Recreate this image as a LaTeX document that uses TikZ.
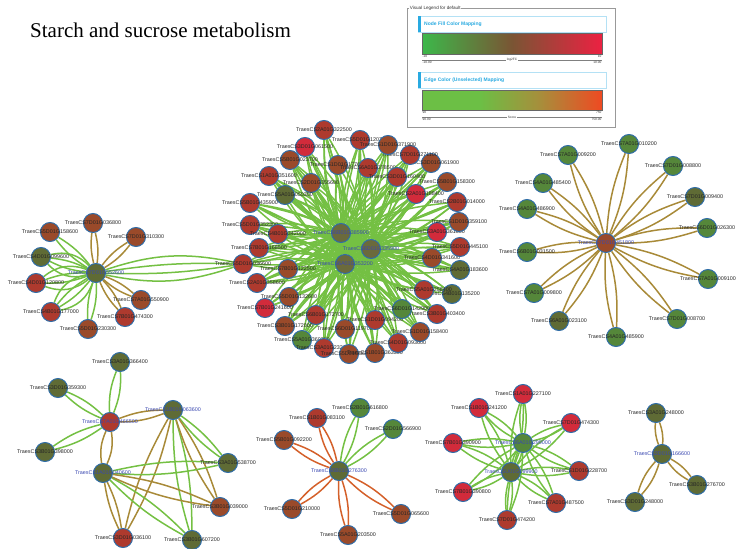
\documentclass[tikz,border=0pt]{standalone}
\usepackage{fontspec}
\setmainfont{Liberation Sans}
\newfontfamily\titlefont{Liberation Serif}
\usetikzlibrary{backgrounds}
\definecolor{ecg}{HTML}{74C043}
\definecolor{ect}{HTML}{A88A38}
\definecolor{eco}{HTML}{D4602A}
\definecolor{nbd}{HTML}{2F6DA8}
\definecolor{cred}{HTML}{D22B3B}
\definecolor{crb}{HTML}{AE3A2E}
\definecolor{cbr}{HTML}{9A4A2A}
\definecolor{col}{HTML}{5F6B35}
\definecolor{cgr}{HTML}{55873A}
\definecolor{chub}{HTML}{6B6A3C}
\definecolor{lblue}{HTML}{3A48B0}
\definecolor{lcyan}{HTML}{29AAE1}
\definecolor{gA}{HTML}{3CB84A}
\definecolor{gB}{HTML}{7A5534}
\definecolor{gC}{HTML}{EC2142}
\definecolor{eA}{HTML}{6CBF45}
\definecolor{eB}{HTML}{A88D3B}
\definecolor{eC}{HTML}{EF4A22}
\tikzset{
  gn/.style={circle, draw=nbd, line width=1pt, minimum size=19pt, inner sep=0pt},
  lab/.style={font=\fontsize{5.4}{6}\selectfont, text=black!85, inner sep=0pt},
  hlab/.style={font=\fontsize{5.4}{6}\selectfont, text=lblue, inner sep=0pt},
  ge/.style={draw=ecg, line width=1.5pt},
  te/.style={draw=ect, line width=1.5pt},
  oe/.style={draw=eco, line width=1.5pt},
  tiny/.style={font=\fontsize{3.2}{3.6}\selectfont, text=black!80, inner sep=0.4pt},
}
\newcommand\nd[4]{\node[gn, fill=#3, label={[lab]center:#4}] (#1) at (#2) {};}
\newcommand\hb[4]{\node[gn, fill=#3, label={[hlab]center:#4}] (#1) at (#2) {};}
\newcommand\dbl[4]{\draw[#3, bend left=#4] (#1) to (#2); \draw[#3, bend right=#4] (#1) to (#2);}
\begin{document}
\begin{tikzpicture}[x=1pt, y=-1pt]
\useasboundingbox (0,0) rectangle (740,549);
% title
\node[anchor=base west, font=\titlefont\fontsize{21}{24}\selectfont, inner sep=0pt] (title) at (30,37) {Starch and sucrose metabolism};
% legend
\draw[black!40, line width=0.6pt] (407,8) rectangle (615,127);
\node[anchor=west, fill=white, inner sep=0.6pt, font=\fontsize{4.6}{5}\selectfont, text=black!80] (lgt) at (409,8) {Visual Legend for default};
\draw[lcyan!35, fill=white, line width=0.5pt] (418,16) rectangle (606,32);
\fill[lcyan] (418,16) rectangle (421,32);
\node[anchor=west, text=lcyan, font=\bfseries\fontsize{5}{6}\selectfont, inner sep=0pt] (h1t) at (424,24) {Node Fill Color Mapping};
\shade[left color=gA, right color=gC, middle color=gB] (422,33) rectangle (602,54);
\draw[black!60, line width=0.4pt] (422,33) rectangle (602,54);
\node[tiny, anchor=north west] (t1a) at (422,55) {-10};
\node[tiny, anchor=north east] (t1b) at (602,55) {10};
\draw[black!50, line width=0.4pt] (422,60) -- (602,60);
\node[tiny, fill=white] (t1c) at (512,60) {log2FC};
\node[tiny, anchor=north west] (t1d) at (422,61) {-10.00};
\node[tiny, anchor=north east] (t1e) at (602,61) {10.00};
\draw[lcyan!35, fill=white, line width=0.5pt] (418,72) rectangle (606,88);
\fill[lcyan] (418,72) rectangle (421,88);
\node[anchor=west, text=lcyan, font=\bfseries\fontsize{5}{6}\selectfont, inner sep=0pt] (h2t) at (424,80) {Edge Color (Unselected) Mapping};
\fill[eA] (422,90) rectangle (480,110);
\shade[left color=eA, right color=eC, middle color=eB] (479.5,90) rectangle (602,110);
\draw[black!60, line width=0.4pt] (422,90) rectangle (602,110);
\node[tiny, anchor=north west] (t2a) at (422,111) {90};
\node[tiny, anchor=north east] (t2b) at (602,111) {750};
\draw[black!50, line width=0.4pt] (422,117) -- (602,117);
\node[tiny, fill=white] (t2c) at (512,117) {Score};
\node[tiny, anchor=north west] (t2d) at (422,118) {90.00};
\node[tiny, anchor=north east] (t2e) at (602,118) {750.00};

% ---------- left cluster
\nd{L1}{93,223}{cbr}{TraesCS7D01G036800}
\nd{L2}{50,232}{cbr}{TraesCS5D01G158600}
\nd{L3}{136,237}{cbr}{TraesCS7D01G310300}
\nd{L4}{41,257}{col}{TraesCS4D01G099600}
\nd{L5}{36,283}{crb}{TraesCS4D01G120800}
\nd{L6}{51,312}{crb}{TraesCS4B01G177000}
\nd{L7}{88,329}{cbr}{TraesCS5D01G230300}
\nd{L8}{125,317}{crb}{TraesCS7B01G474300}
\nd{L9}{141,300}{cbr}{TraesCS7A01G550900}
\hb{L0}{96,273}{col}{TraesCS7D01G552600}

% ---------- right cluster
\nd{R1}{629,144}{cgr}{TraesCS7A01G010200}
\nd{R2}{568,155}{cgr}{TraesCS7A01G009200}
\nd{R3}{673,166}{cgr}{TraesCS7D01G008800}
\nd{R4}{543,183}{cgr}{TraesCS4A01G485400}
\nd{R5}{695,197}{col}{TraesCS7D01G009400}
\nd{R6}{527,209}{cgr}{TraesCS4A01G486900}
\nd{R7}{707,228}{cgr}{TraesCS6D01G026300}
\nd{R8}{527,252}{cgr}{TraesCS6B01G031500}
\nd{R9}{708,279}{cgr}{TraesCS7A01G009100}
\nd{R10}{534,293}{cgr}{TraesCS7A01G009800}
\nd{R11}{677,319}{cgr}{TraesCS7D01G008700}
\nd{R12}{559,321}{col}{TraesCS6A01G023100}
\nd{R13}{616,337}{cgr}{TraesCS4A01G485900}
\hb{R0}{606,243}{cbr}{TraesCS7D01G451800}

% ---------- bottom-left cluster
\nd{B1}{120,362}{col}{TraesCS3A01G366400}
\nd{B2}{58,388}{col}{TraesCS3D01G359300}
\nd{B5}{45,452}{col}{TraesCS3B01G398000}
\nd{B7}{228,463}{col}{TraesCS3A01G538700}
\nd{B8}{220,507}{cbr}{TraesCS3B01G039000}
\nd{B9}{123,538}{crb}{TraesCS3D01G036100}
\nd{B10}{192,540}{col}{TraesCS3B01G607200}
\hb{B3}{110,422}{crb}{TraesCS7A01G466500}
\hb{B4}{173,410}{col}{TraesCS1B01G063600}
\hb{B6}{103,473}{col}{TraesCS1A01G040600}

% ---------- bottom-middle cluster
\nd{M1}{360,408}{cgr}{TraesCS2B01G616800}
\nd{M2}{317,418}{crb}{TraesCS1B01G083100}
\nd{M3}{284,440}{cbr}{TraesCS5B01G092200}
\nd{M4}{393,429}{cgr}{TraesCS2D01G566900}
\nd{M5}{292,509}{cbr}{TraesCS5D01G210000}
\nd{M6}{348,535}{cbr}{TraesCS5A01G203500}
\nd{M7}{401,514}{cbr}{TraesCS5D01G065600}
\hb{M0}{339,471}{col}{TraesCS6B01G276300}

% ---------- bottom-right cluster
\nd{Q3}{523,394}{cred}{TraesCS1A01G227100}
\nd{Q4}{479,408}{cred}{TraesCS1B01G241200}
\nd{Q5}{571,423}{cred}{TraesCS7D01G474300}
\nd{Q6}{453,443}{cred}{TraesCS7B01G390900}
\nd{Q7}{579,471}{crb}{TraesCS1D01G228700}
\nd{Q8}{463,492}{cred}{TraesCS7B01G390800}
\nd{Q9}{556,503}{crb}{TraesCS7A01G487500}
\nd{Q10}{507,520}{crb}{TraesCS7D01G474200}
\hb{Q1}{523,443}{cgr}{TraesCS6A01G299000}
\hb{Q2}{511,472}{col}{TraesCSU01G099900}

% ---------- far-right cluster
\nd{F1}{656,413}{col}{TraesCS3A01G248000}
\nd{F2}{697,485}{col}{TraesCS3B01G276700}
\nd{F3}{635,502}{col}{TraesCS3D01G248000}
\hb{F0}{662,454}{col}{TraesCS2D01G166600}

% ---------- central cluster
\nd{c1}{324,130}{crb}{TraesCS2A01G322500}
\nd{c2}{360,140}{crb}{TraesCS5D01G120700}
\nd{c3}{305,147}{cred}{TraesCS3D01G061500}
\nd{c4}{290,160}{cbr}{TraesCS5B01G023700}
\nd{c5}{338,165}{cbr}{TraesCS1D01G177600}
\nd{c6}{368,168}{crb}{TraesCS6A01G378500}
\nd{c7}{269,176}{crb}{TraesCS1A01G351600}
\nd{c8}{311,183}{cbr}{TraesCS2D01G355600}
\nd{c9}{285,195}{col}{TraesCS5A01G050300}
\nd{c10}{250,203}{crb}{TraesCS5B01G435900}
\nd{c11}{250,225}{crb}{TraesCS5D01G352300}
\nd{c12}{278,234}{crb}{TraesCS4B01G342000}
\nd{c13}{259,248}{crb}{TraesCS7B01G168500}
\nd{c14}{243,264}{crb}{TraesCS5D01G036600}
\nd{c15}{288,269}{cbr}{TraesCS7B01G122500}
\nd{c16}{257,283}{crb}{TraesCS2A01G358600}
\nd{c17}{289,297}{cbr}{TraesCS5D01G132600}
\nd{c18}{265,308}{cred}{TraesCS7B01G241600}
\nd{c19}{316,315}{crb}{TraesCS6B01G172700}
\nd{c20}{285,326}{cbr}{TraesCS3B01G172000}
\nd{c21}{345,329}{cbr}{TraesCS6D01G119700}
\nd{c22}{302,340}{cgr}{TraesCS5A01G360200}
\nd{c23}{324,348}{crb}{TraesCS3A01G232600}
\nd{c24}{349,354}{cbr}{TraesCS5D01G363500}
\nd{c25}{375,353}{cbr}{TraesCS1B01G363300}
\nd{c26}{398,343}{crb}{TraesCS4D01G093600}
\nd{c27}{420,332}{cbr}{TraesCS1D01G158400}
\nd{c28}{375,320}{crb}{TraesCS1D01G094200}
\nd{c29}{437,314}{crb}{TraesCS3B01G403400}
\nd{c30}{402,309}{cgr}{TraesCS6D01G142900}
\nd{c31}{452,294}{col}{TraesCS4B01G135200}
\nd{c32}{424,290}{crb}{TraesCS5A01G258400}
\nd{c33}{460,270}{col}{TraesCS4A01G183600}
\nd{c34}{432,258}{cbr}{TraesCS4D01G341600}
\nd{c35}{460,247}{crb}{TraesCS5D01G445100}
\nd{c36}{437,232}{cred}{TraesCS3A01G361600}
\nd{c37}{459,222}{cbr}{TraesCS1D01G359100}
\nd{c38}{457,202}{crb}{TraesCS2B01G014000}
\nd{c39}{416,194}{cred}{TraesCS2A01G188400}
\nd{c40}{447,182}{cbr}{TraesCS5B01G158300}
\nd{c41}{397,177}{crb}{TraesCS3D01G160400}
\nd{c42}{431,163}{cbr}{TraesCS3D01G061900}
\nd{c43}{410,155}{crb}{TraesCS7D01G271100}
\nd{c44}{388,145}{cbr}{TraesCS1D01G371900}
\hb{h1}{341,233}{chub}{TraesCS6B01G385900}
\hb{h2}{371,249}{chub}{TraesCS6D01G335900}
\hb{h3}{345,264}{chub}{TraesCS6A01G353200}

\begin{scope}[on background layer]
% central
\foreach \i in {1,...,44}{
  \foreach \h in {h1,h2,h3}{
    \dbl{c\i}{\h}{ge}{9}
  }
}
\dbl{h1}{h2}{ge}{14}
\dbl{h1}{h3}{ge}{14}
\dbl{h2}{h3}{ge}{14}
% left
\foreach \n in {L1,L3,L8,L9}{\dbl{L0}{\n}{te}{10}}
\foreach \n in {L2,L4,L5,L6,L7}{\dbl{L0}{\n}{ge}{10}}
\foreach \n in {L4,L5,L6}{\dbl{L0}{\n}{ge}{30}}
\dbl{L0}{c14}{ge}{5}
\dbl{L0}{c14}{ge}{15}
% right
\foreach \n in {R1,R2,R3,R4,R5,R6,R7,R8,R9,R10,R11,R12,R13}{\dbl{R0}{\n}{te}{9}}
% bottom-left
\dbl{B3}{B1}{ge}{12}
\dbl{B3}{B2}{ge}{10}
\dbl{B3}{B5}{ge}{10}
\dbl{B3}{B4}{te}{10}
\dbl{B3}{B6}{te}{16}
\foreach \s in {B4,B6}{
  \dbl{\s}{B7}{ge}{8}
  \dbl{\s}{B10}{ge}{8}
  \dbl{\s}{B8}{te}{8}
  \dbl{\s}{B9}{te}{8}
}
% bottom-middle
\foreach \n in {M2,M3,M5,M6,M7}{\dbl{M0}{\n}{oe}{10}}
\foreach \n in {M1,M4}{\dbl{M0}{\n}{ge}{10}}
% bottom-right
\foreach \n in {Q3,Q4,Q5,Q6,Q7,Q8,Q9,Q10}{
  \dbl{Q1}{\n}{ge}{10}
  \dbl{Q2}{\n}{ge}{10}
}
\dbl{Q1}{Q2}{ge}{14}
% far-right
\foreach \n in {F1,F2,F3}{\dbl{F0}{\n}{te}{12}}
\end{scope}
\end{tikzpicture}
\end{document}
